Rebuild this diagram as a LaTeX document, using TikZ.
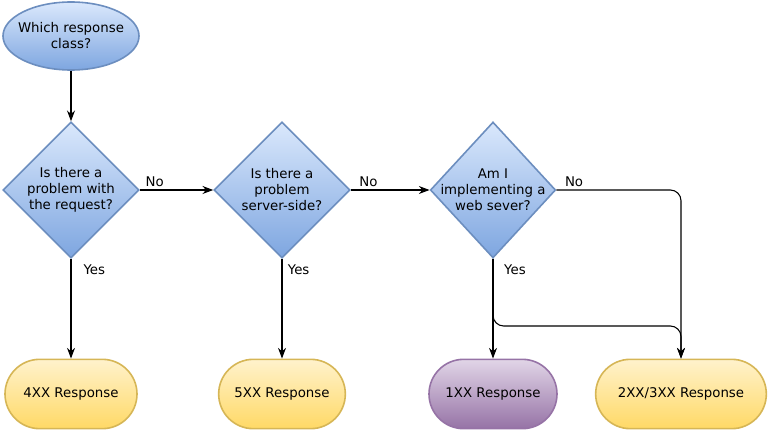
\documentclass[tikz,border=0pt]{standalone}
\usepackage{fontspec}
\setmainfont{DejaVu Sans}
\usetikzlibrary{shapes.geometric,shapes.misc,arrows.meta}
\definecolor{bluetop}{HTML}{DAE8FC}
\definecolor{bluebot}{HTML}{7EA6E0}
\definecolor{blueline}{HTML}{6C8EBF}
\definecolor{yeltop}{HTML}{FFF2CC}
\definecolor{yelbot}{HTML}{FFD966}
\definecolor{yelline}{HTML}{D6B656}
\definecolor{purtop}{HTML}{E1D5E7}
\definecolor{purbot}{HTML}{9673A6}
\definecolor{purline}{HTML}{9673A6}
\begin{document}
\begin{tikzpicture}[x=0.75pt,y=-0.75pt,
  font=\fontsize{10}{12}\selectfont,
  startnode/.style={ellipse, draw=blueline, line width=1.2pt, top color=bluetop, bottom color=bluebot,
    minimum width=102pt, minimum height=51pt, inner sep=0pt},
  decision/.style={diamond, draw=blueline, line width=1.2pt, top color=bluetop, bottom color=bluebot,
    inner sep=0pt, minimum height=102pt},
  result/.style={rounded rectangle, draw=yelline, line width=1.2pt, top color=yeltop, bottom color=yelbot,
    minimum height=52pt, inner sep=0pt},
  purpleresult/.style={result, draw=purline, top color=purtop, bottom color=purbot},
  flow/.style={-{Stealth[length=8pt,width=6pt]}, line width=0.8pt},
  lbl/.style={fill=white, inner sep=1pt}
]
\useasboundingbox (0,0) rectangle (768,431);

\node[startnode, label={[align=center]center:Which response\\class?}] (start) at (71,36) {};

\node[decision, minimum width=102pt,
  label={[align=center]center:Is there a\\problem with\\the request?}] (d1) at (71,190) {};
\node[decision, minimum width=102pt,
  label={[align=center]center:Is there a\\problem\\server-side?}] (d2) at (282,190) {};
\node[decision, minimum width=94pt,
  label={[align=center]center:Am I\\implementing a\\web sever?}] (d3) at (493,190) {};

\node[result, minimum width=99pt] (t4) at (71,394) {4XX Response};
\node[result, minimum width=95pt] (t5) at (282,394) {5XX Response};
\node[purpleresult, minimum width=96pt] (t1) at (493,394) {1XX Response};
\node[result, minimum width=128pt] (t23) at (681,394) {2XX/3XX Response};

\coordinate (m) at (681,326);

\draw[flow] (start) -- (d1);
\draw[flow] (d1) -- node[lbl, pos=0, anchor=south west, xshift=3pt, yshift=1pt] {No} (d2);
\draw[flow] (d2) -- node[lbl, pos=0, anchor=south west, xshift=5pt, yshift=1pt] {No} (d3);
\draw[flow, rounded corners=8pt] (d3.east) -| node[lbl, pos=0, anchor=south west, xshift=5pt, yshift=1pt] {No} (t23.north);

\draw[flow] (d1) -- node[lbl, pos=0, anchor=north west, xshift=8pt, yshift=-3pt] {Yes} (t4);
\draw[flow] (d2) -- node[lbl, pos=0, anchor=north west, xshift=3pt, yshift=-3pt] {Yes} (t5);
\draw[flow] (d3.south) -- node[lbl, pos=0, anchor=north west, xshift=7pt, yshift=-3pt] {Yes} (t1.north);
\draw[flow, rounded corners=8pt] (d3.south) |- (m) -- (t23.north);
\end{tikzpicture}
\end{document}
